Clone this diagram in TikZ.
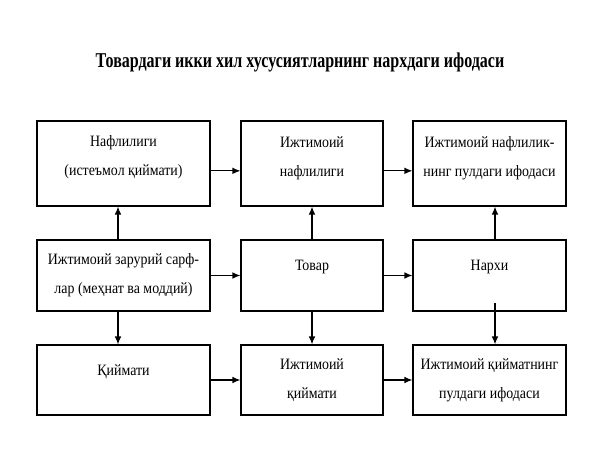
\documentclass[tikz,border=0pt]{standalone}
\usepackage{fontspec}
\setmainfont{Liberation Serif}[FakeStretch=0.88]
\newfontfamily\titlefont{Liberation Serif}[FakeStretch=0.76]
\usepackage{tikz}
\usetikzlibrary{arrows.meta}

\begin{document}
\begin{tikzpicture}[x=0.03cm,y=0.03cm,
                box/.style={draw,line width=1pt,align=center,inner sep=0pt,
                    font=\fontsize{13.5}{25}\selectfont},
                arr/.style={-{Latex[length=2.4mm,width=2mm]},line width=1pt}]
                \useasboundingbox (0,0) rectangle (600,450);
                \node[font=\titlefont\bfseries\fontsize{18}{22}\selectfont] (title) at (300,388) {Товардаги икки хил хусусиятларнинг нархдаги ифодаси};
                \node[box,minimum width=173*0.03cm,minimum height=85*0.03cm,text depth=14pt] (nafl) at (123.5,286.5) {Нафлилиги\\(истеъмол қиймати)};
                \node[box,minimum width=142*0.03cm,minimum height=85*0.03cm,text depth=12pt] (ijnafl) at (312,286.5) {Ижтимоий\\нафлилиги};
                \node[box,minimum width=153*0.03cm,minimum height=85*0.03cm,text depth=12pt] (pulnafl) at (489.5,286.5) {Ижтимоий нафлилик-\\нинг пулдаги ифодаси};
                \node[box,minimum width=173*0.03cm,minimum height=71*0.03cm] (sarf) at (123.5,174.5) {Ижтимоий зарурий сарф-\\лар (меҳнат ва моддий)};
                \node[box,minimum width=142*0.03cm,minimum height=71*0.03cm,text depth=17pt] (tovar) at (312,174.5) {Товар};
                \node[box,minimum width=153*0.03cm,minimum height=71*0.03cm,text depth=17pt] (narx) at (489.5,174.5) {Нархи};
                \node[box,minimum width=173*0.03cm,minimum height=70*0.03cm,text depth=17pt] (qiym) at (123.5,70) {Қиймати};
                \node[box,minimum width=142*0.03cm,minimum height=70*0.03cm] (ijqiym) at (312,70) {Ижтимоий\\қиймати};
                \node[box,minimum width=153*0.03cm,minimum height=70*0.03cm] (pulqiym) at (489.5,70) {Ижтимоий қийматнинг\\пулдаги ифодаси};
                \draw[arr] ([yshift=-0.22cm]nafl.east) -- ([yshift=-0.22cm]ijnafl.west);
                \draw[arr] ([yshift=-0.22cm]ijnafl.east) -- ([yshift=-0.22cm]pulnafl.west);
                \draw[arr] (sarf.east) -- (tovar.west);
                \draw[arr] (tovar.east) -- (narx.west);
                \draw[arr] (qiym.east) -- (ijqiym.west);
                \draw[arr] (ijqiym.east) -- (pulqiym.west);
                \draw[arr] ([xshift=-0.165cm]sarf.north) -- ([xshift=-0.165cm]nafl.south);
                \draw[arr] ([xshift=-0.165cm]sarf.south) -- ([xshift=-0.165cm]qiym.north);
                \draw[arr] (tovar.north) -- (ijnafl.south);
                \draw[arr] (tovar.south) -- (ijqiym.north);
                \draw[arr] ([xshift=0.165cm]narx.north) -- ([xshift=0.165cm]pulnafl.south);
                \draw[arr] ([xshift=0.165cm,yshift=0.25cm]narx.south) -- ([xshift=0.165cm]pulqiym.north);
            \end{tikzpicture}
\end{document}
